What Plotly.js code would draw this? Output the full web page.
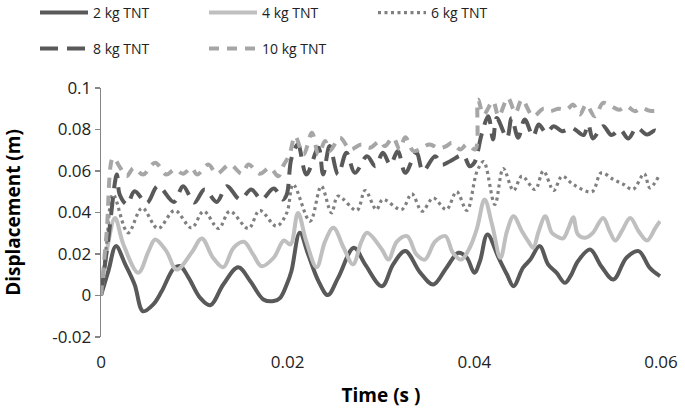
<!DOCTYPE html>
<html>
<head>
<meta charset="utf-8">
<script src="https://cdn.plot.ly/plotly-3.0.1.min.js"></script>
<style>html,body{margin:0;padding:0;background:#fff;}#chart{width:685px;height:417px;}</style>
</head>
<body>
<div id="chart"></div>
<script>
// Series names
const seriesNames = ["2 kg TNT", "4 kg TNT", "6 kg TNT", "8 kg TNT", "10 kg TNT"];

// 2 kg TNT
const t2 = [0, 0.0008, 0.0016, 0.0026, 0.0036, 0.0045, 0.0056, 0.0065, 0.0078, 0.0085,
  0.0094, 0.0106, 0.0117, 0.0131, 0.0147, 0.016, 0.0174, 0.0185, 0.0192, 0.0199,
  0.0204, 0.0213, 0.0222, 0.0233, 0.0243, 0.0254, 0.0271, 0.0283, 0.0301, 0.0313,
  0.0326, 0.0342, 0.0356, 0.037, 0.0383, 0.0392, 0.04, 0.0406, 0.0414, 0.0426,
  0.0435, 0.0442, 0.0452, 0.046, 0.047, 0.0479, 0.0488, 0.0497, 0.0503, 0.0511,
  0.0524, 0.0536, 0.0549, 0.0563, 0.0576, 0.0588, 0.0599];
const d2 = [0, 0.012, 0.0238, 0.015, 0.0053, -0.0076, -0.0043, 0.002, 0.013, 0.0141,
  0.0085, -0.001, -0.0047, 0.0053, 0.0136, 0.0069, -0.0019, -0.0027, -0.0011, 0.0053,
  0.0117, 0.0302, 0.0198, 0.0069, 0.0002, 0.0085, 0.023, 0.015, 0.0045, 0.015,
  0.0214, 0.011, 0.0053, 0.0133, 0.0206, 0.0182, 0.011, 0.0165, 0.0294, 0.0182,
  0.0101, 0.0045, 0.0133, 0.0173, 0.0238, 0.015, 0.011, 0.0061, 0.0093, 0.0165,
  0.0222, 0.0141, 0.0077, 0.0182, 0.0214, 0.0133, 0.0093];

// 4 kg TNT
const t4 = [0, 0.0008, 0.0015, 0.0024, 0.004, 0.0051, 0.0058, 0.007, 0.0081, 0.0097,
  0.0108, 0.012, 0.0131, 0.0142, 0.0153, 0.0163, 0.0172, 0.0185, 0.0196, 0.0203,
  0.0211, 0.022, 0.0231, 0.024, 0.0249, 0.026, 0.027, 0.0279, 0.0285, 0.0301,
  0.0308, 0.0317, 0.0328, 0.0338, 0.0347, 0.0358, 0.0369, 0.0377, 0.0386, 0.0395,
  0.0403, 0.0411, 0.0419, 0.0428, 0.0435, 0.0442, 0.0451, 0.0458, 0.0463, 0.0469,
  0.0476, 0.0483, 0.0488, 0.0495, 0.0501, 0.0506, 0.0511, 0.0519, 0.0527, 0.0538,
  0.0545, 0.0551, 0.0558, 0.0567, 0.0576, 0.0585, 0.0594, 0.0599];
const d4 = [0, 0.026, 0.0374, 0.0246, 0.011, 0.0214, 0.027, 0.0214, 0.0125, 0.0206,
  0.0275, 0.0182, 0.0136, 0.023, 0.0259, 0.0198, 0.0141, 0.0182, 0.0265, 0.0246,
  0.0398, 0.026, 0.0136, 0.026, 0.0326, 0.023, 0.015, 0.026, 0.0302, 0.0222,
  0.0173, 0.026, 0.0286, 0.0198, 0.0173, 0.026, 0.0286, 0.0206, 0.0173, 0.023,
  0.0326, 0.0463, 0.0342, 0.0182, 0.031, 0.0382, 0.031, 0.026, 0.023, 0.031,
  0.0382, 0.0302, 0.0286, 0.0275, 0.0326, 0.0377, 0.0294, 0.0278, 0.0302, 0.0374,
  0.031, 0.0265, 0.031, 0.0374, 0.031, 0.0265, 0.0326, 0.0358];

// 6 kg TNT
const t6 = [0, 0.0006, 0.0013, 0.0029, 0.0044, 0.0061, 0.0079, 0.0097, 0.011, 0.0126,
  0.0138, 0.0158, 0.017, 0.0188, 0.0199, 0.0206, 0.0224, 0.0236, 0.0247, 0.0254,
  0.0274, 0.0283, 0.0295, 0.0302, 0.0322, 0.0333, 0.0344, 0.0356, 0.037, 0.0381,
  0.0392, 0.0403, 0.041, 0.0422, 0.0431, 0.0442, 0.0451, 0.0465, 0.0474, 0.0485,
  0.0494, 0.0506, 0.0526, 0.0536, 0.0549, 0.056, 0.057, 0.0582, 0.0588, 0.0597];
const d6 = [0, 0.025, 0.0487, 0.0302, 0.0422, 0.0323, 0.041, 0.0326, 0.0406, 0.0323,
  0.0406, 0.0323, 0.041, 0.0334, 0.0398, 0.0535, 0.0358, 0.0527, 0.0398, 0.0479,
  0.041, 0.0506, 0.0414, 0.0463, 0.0414, 0.049, 0.0406, 0.047, 0.0414, 0.05,
  0.041, 0.06, 0.0645, 0.0439, 0.0612, 0.0506, 0.0575, 0.0511, 0.06, 0.0506,
  0.0575, 0.0535, 0.05, 0.0591, 0.0559, 0.0535, 0.0511, 0.0587, 0.0519, 0.057];

// 8 kg TNT
const t8 = [0, 0.0008, 0.0017, 0.002, 0.0028, 0.0036, 0.0049, 0.0061, 0.0078, 0.0088,
  0.0100, 0.0111, 0.0124, 0.0135, 0.0149, 0.0161, 0.0172, 0.0185, 0.0195, 0.0199,
  0.0204, 0.0211, 0.022, 0.0233, 0.0238, 0.0245, 0.0254, 0.0263, 0.0272, 0.0285,
  0.0294, 0.0302, 0.031, 0.0318, 0.0326, 0.0338, 0.0345, 0.0358, 0.0365, 0.0374,
  0.0388, 0.0395, 0.0400, 0.0408, 0.0415, 0.042, 0.0424, 0.0435, 0.044, 0.0447,
  0.0454, 0.0463, 0.0469, 0.0477, 0.0485, 0.0494, 0.0504, 0.0508, 0.0517, 0.0522,
  0.0527, 0.0538, 0.0547, 0.0556, 0.0565, 0.0574, 0.0585, 0.0594, 0.0599];
const d8 = [0, 0.028, 0.0583, 0.0487, 0.0439, 0.0502, 0.0446, 0.0527, 0.0451, 0.0527,
  0.0448, 0.0511, 0.0451, 0.0527, 0.0463, 0.0511, 0.0463, 0.0516, 0.0463, 0.0487,
  0.066, 0.0728, 0.0583, 0.0712, 0.0583, 0.072, 0.0583, 0.0688, 0.0591, 0.0671,
  0.0623, 0.0688, 0.0631, 0.0696, 0.0591, 0.0688, 0.06, 0.0671, 0.0631, 0.0647,
  0.0676, 0.0623, 0.064, 0.078, 0.0864, 0.0752, 0.0856, 0.076, 0.0856, 0.076,
  0.0848, 0.0768, 0.0824, 0.0784, 0.0816, 0.0792, 0.0808, 0.08, 0.0773, 0.0824,
  0.0757, 0.0816, 0.0773, 0.08, 0.0757, 0.0808, 0.0776, 0.0795, 0.0768];

// 10 kg TNT
const t10 = [0, 0.0006, 0.0013, 0.002, 0.00275, 0.0035, 0.0045, 0.0058, 0.007, 0.0079,
  0.0088, 0.0097, 0.0103, 0.0115, 0.0124, 0.0138, 0.0151, 0.0158, 0.017, 0.0181,
  0.019, 0.0195, 0.0202, 0.0208, 0.0217, 0.0226, 0.0233, 0.024, 0.0245, 0.0256,
  0.0267, 0.0279, 0.0288, 0.0299, 0.0304, 0.0313, 0.032, 0.0326, 0.0335, 0.0352,
  0.0362, 0.037, 0.0376, 0.0385, 0.0392, 0.0401, 0.0404, 0.041, 0.042, 0.0426,
  0.0436, 0.0444, 0.0451, 0.0463, 0.0474, 0.0481, 0.049, 0.0499, 0.0506, 0.0513,
  0.052, 0.0529, 0.0538, 0.0547, 0.0555, 0.0563, 0.0572, 0.0579, 0.0588, 0.0598];
const d10 = [0, 0.03, 0.0664, 0.062, 0.0575, 0.0615, 0.0583, 0.064, 0.0583, 0.0607,
  0.0587, 0.0615, 0.0583, 0.0631, 0.0587, 0.0631, 0.0587, 0.0631, 0.0587, 0.0615,
  0.0575, 0.0623, 0.068, 0.0768, 0.068, 0.0784, 0.068, 0.0744, 0.0696, 0.076,
  0.0704, 0.0728, 0.0712, 0.0744, 0.072, 0.076, 0.0704, 0.0763, 0.0696, 0.0728,
  0.071, 0.072, 0.0736, 0.0704, 0.0728, 0.0704, 0.0944, 0.0872, 0.0936, 0.0864,
  0.0952, 0.088, 0.0944, 0.0864, 0.09, 0.0888, 0.09, 0.0896, 0.092, 0.0872,
  0.092, 0.0864, 0.0928, 0.0912, 0.0895, 0.0912, 0.0888, 0.0904, 0.089, 0.089];

// Axis ticks
const xTickVals = [0, 0.02, 0.04, 0.06];
const xTickText = ["0", "0.02", "0.04", "0.06"];
const yTickVals = [-0.02, 0, 0.02, 0.04, 0.06, 0.08, 0.1];
const yTickText = ["-0.02", "0", "0.02", "0.04", "0.06", "0.08", "0.1"];

const xs = [t2, t4, t6, t8, t10];
const ys = [d2, d4, d6, d8, d10];
const styles = [
  {color: "#595959", width: 4, dash: "solid"},
  {color: "#bfbfbf", width: 4, dash: "solid"},
  {color: "#808080", width: 3.2, dash: "3px,3.5px"},
  {color: "#595959", width: 4, dash: "18px,9px"},
  {color: "#a6a6a6", width: 4, dash: "10px,8px"}
];
// legend slot for each series (left edge px, centre y px)
const legendIds = ["legend", "legend2", "legend3", "legend4", "legend5"];
const legendPos = [[35, 13], [204, 13], [373, 13], [35, 49], [204, 49]];

const traces = seriesNames.map((name, i) => ({
  type: "scatter", mode: "lines", name: name,
  x: xs[i], y: ys[i],
  legend: legendIds[i],
  line: {color: styles[i].color, width: styles[i].width, dash: styles[i].dash, shape: "spline", smoothing: 1},
  hoverinfo: "skip"
}));

const FONT = "'Open Sans', 'Noto Sans', sans-serif";
const axisGray = "#868686";

const layout = {
  width: 685, height: 417,
  margin: {l: 101, r: 24, t: 88, b: 80, pad: 0},
  paper_bgcolor: "#fff", plot_bgcolor: "#fff",
  font: {family: FONT, size: 16, color: "#222"},
  showlegend: true,
  xaxis: {
    range: [0, 0.06], tickvals: xTickVals, ticktext: xTickText,
    showline: false, ticks: "", showgrid: false, zeroline: false,
    tickfont: {family: FONT, size: 17, color: "#222"},
    ticklabelstandoff: 13,
    title: {text: "<b>Time (s )</b>", font: {family: FONT, size: 19, color: "#000"}, standoff: 16}
  },
  xaxis2: {
    overlaying: "x", anchor: "free", position: 1/6, side: "bottom",
    range: [0, 0.06], tickvals: xTickVals,
    showline: true, linecolor: axisGray, linewidth: 1.3,
    ticks: "outside", ticklen: 5, tickcolor: axisGray, tickwidth: 1.3,
    showticklabels: false, showgrid: false, zeroline: false
  },
  yaxis: {
    range: [-0.02, 0.1], tickvals: yTickVals, ticktext: yTickText,
    showline: true, linecolor: axisGray, linewidth: 1.3,
    ticks: "outside", ticklen: 5, tickcolor: axisGray, tickwidth: 1.3,
    showgrid: false, zeroline: false,
    tickfont: {family: FONT, size: 17, color: "#222"},
    title: {text: "<b>Displacement (m)</b>", font: {family: FONT, size: 19, color: "#000"}, standoff: 26}
  }
};
legendIds.forEach((id, i) => {
  layout[id] = {
    orientation: "h", xref: "container", yref: "container",
    xanchor: "left", yanchor: "middle",
    x: legendPos[i][0] / 685, y: 1 - legendPos[i][1] / 417,
    font: {family: FONT, size: 14, color: "#222"},
    itemwidth: 48, bgcolor: "rgba(0,0,0,0)", borderwidth: 0
  };
});

Plotly.newPlot("chart", traces, layout, {displayModeBar: false, staticPlot: true});
</script>
</body>
</html>
